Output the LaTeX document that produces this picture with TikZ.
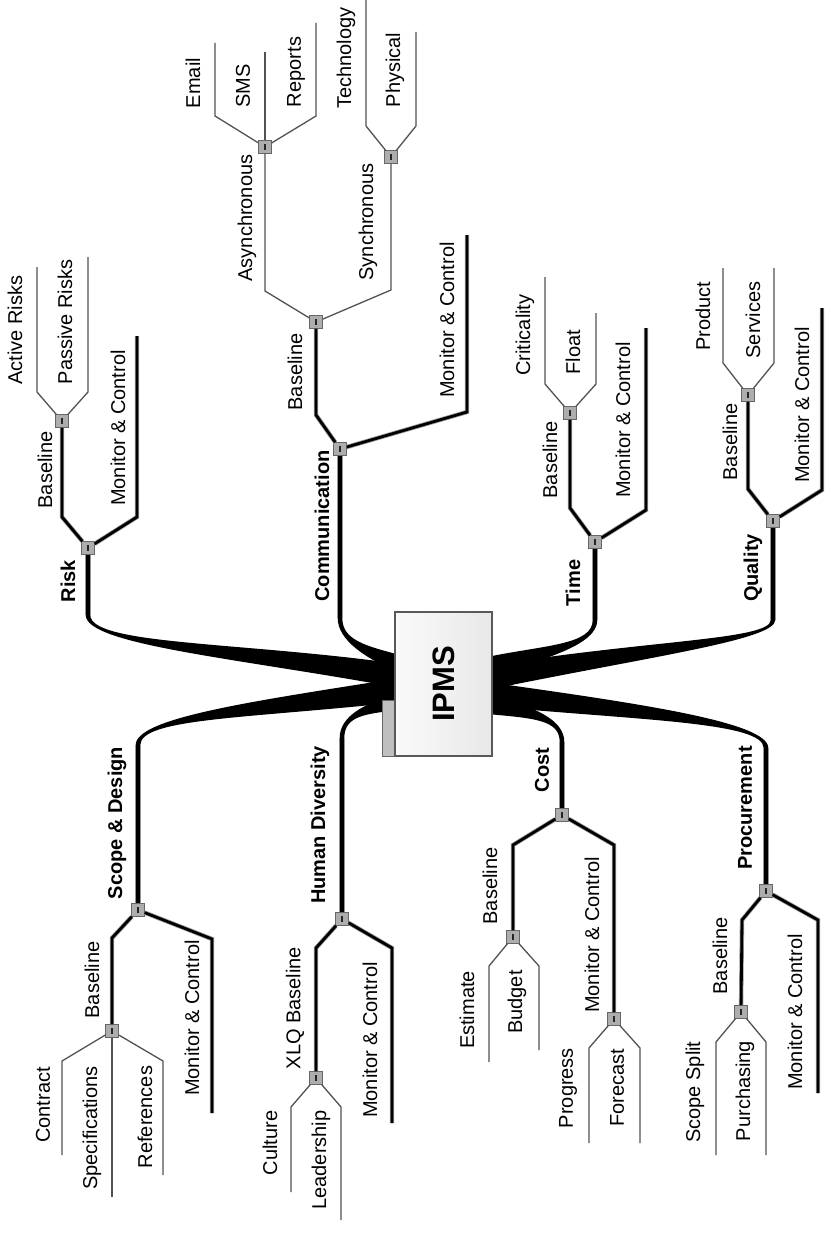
\documentclass[tikz,border=0pt]{standalone}
\usepackage{fontspec}
\setmainfont{Liberation Sans}
\usetikzlibrary{calc}
% tapered band from the central box to a topic stem
% #1 start, #2 end, #3 first control, #4 second control, #5 half width at start, #6 signed half width at end
\newcommand\taperband[6]{%
  \fill[bandfill] ($(#1)+(0,-#5)$) .. controls ($(#3)+(0,-0.7*#5)$) and ($(#4)+(#6,0)$) .. ($(#2)+(#6,0)$)
    -- ($(#2)+({-1*(#6)},0)$) .. controls ($(#4)+({-1*(#6)},0)$) and ($(#3)+(0,0.7*#5)$) .. ($(#1)+(0,#5)$) -- cycle;}
\begin{document}
\begin{tikzpicture}[x=1pt,y=-1pt,
  lbl/.style={rotate=90,inner sep=0pt,font=\fontsize{20}{24}\selectfont},
  topic/.style={rotate=90,inner sep=0pt,font=\fontsize{20}{24}\selectfont\bfseries},
  lone/.style={preaction={draw=black!42,line width=5.4pt},draw=black,line width=3.4pt},
  ltwo/.style={preaction={draw=black!40,line width=4.4pt},draw=black,line width=2.8pt},
  lthree/.style={draw=black!68,line width=1.3pt},
  sq/.style={draw=black!60,fill=black!32,line width=0.8pt,minimum size=12.5pt,inner sep=0pt,
    path picture={\fill[black!85] ($(path picture bounding box.center)+(-0.9pt,-2.8pt)$) rectangle ++(1.8pt,5.6pt);}},
  bandfill/.style={fill=black}]
\useasboundingbox (0,0) rectangle (824,1244);
\fill[white] (0,0) rectangle (824,1244);

% ---------- coordinates of the stems ----------
% band start points on the central box
\coordinate (bRiskS) at (400,676);
\coordinate (bCommS) at (400,664);
\coordinate (bScopeS) at (400,690);
\coordinate (bHdS) at (400,702);
\coordinate (bTimeS) at (487,667);
\coordinate (bQualS) at (487,678);
\coordinate (bProcS) at (487,694);
\coordinate (bCostS) at (487,705);
% band end points, where the topic stems begin
\coordinate (riskE) at (88,615);
\coordinate (commE) at (340,618);
\coordinate (scopeE) at (138,745);
\coordinate (hdE) at (342,738);
\coordinate (timeE) at (595,620);
\coordinate (qualE) at (773,620);
\coordinate (procE) at (766,748);
\coordinate (costE) at (562,742);

% ---------- tapered bands ----------
\taperband{bRiskS}{riskE}{240,650}{88,645}{12}{2.3}
\taperband{bCommS}{commE}{365,652}{340,640}{9}{2.3}
\taperband{bScopeS}{scopeE}{250,710}{138,718}{12}{-2.3}
\taperband{bHdS}{hdE}{365,708}{342,716}{8}{-2.3}
\taperband{bTimeS}{timeE}{545,652}{595,645}{10}{-2.3}
\taperband{bQualS}{qualE}{650,648}{773,640}{12}{-2.3}
\taperband{bProcS}{procE}{640,712}{766,722}{12}{2.3}
\taperband{bCostS}{costE}{535,712}{562,720}{9}{2.3}

% ---------- central box ----------
\fill[black!25,draw=black!60,line width=1pt] (382,700) rectangle (396,756);
\node[rotate=90,draw=black!65,line width=1.5pt,left color=black!2,right color=black!9,
  minimum width=144pt,minimum height=97pt,inner sep=0pt,
  font=\fontsize{31}{36}\selectfont\bfseries] (ipms) at (443.5,684) {IPMS};

% ---------- Risk ----------
\node[sq] (rs) at (88,548) {};
\node[sq] (rbsq) at (62,421) {};
\coordinate (rbE) at (62,517);
\coordinate (rmE) at (137,517); \coordinate (rmT) at (137,336);
\coordinate (raE) at (37,392); \coordinate (raT) at (37,267);
\coordinate (rpE) at (88,392); \coordinate (rpT) at (88,257);
\draw[lone] (riskE) -- (rs);
\draw[ltwo] (rs) -- (rbE) -- (rbsq);
\draw[ltwo] (rs) -- (rmE) -- (rmT);
\draw[lthree] (rbsq) -- (raE) -- (raT);
\draw[lthree] (rbsq) -- (rpE) -- (rpT);

% ---------- Communication ----------
\node[sq] (cs) at (340,449) {};
\node[sq] (cbsq) at (316,322) {};
\node[sq] (casq) at (265,147) {};
\node[sq] (cysq) at (391,157) {};
\coordinate (cbE) at (316,415);
\coordinate (cmE) at (467,412); \coordinate (cmT) at (467,235);
\coordinate (caE) at (265,291);
\coordinate (cyE) at (391,290);
\coordinate (emE) at (215,116); \coordinate (emT) at (215,43);
\coordinate (smsT) at (265,52);
\coordinate (repE) at (316,116); \coordinate (repT) at (316,23);
\coordinate (tecE) at (366,126); \coordinate (tecT) at (366,0);
\coordinate (phyE) at (416,126); \coordinate (phyT) at (416,32);
\draw[lone] (commE) -- (cs);
\draw[ltwo] (cs) -- (cbE) -- (cbsq);
\draw[ltwo] (cs) -- (cmE) -- (cmT);
\draw[lthree] (cbsq) -- (caE) -- (casq);
\draw[lthree] (cbsq) -- (cyE) -- (cysq);
\draw[lthree] (casq) -- (emE) -- (emT);
\draw[lthree] (casq) -- (smsT);
\draw[lthree] (casq) -- (repE) -- (repT);
\draw[lthree] (cysq) -- (tecE) -- (tecT);
\draw[lthree] (cysq) -- (phyE) -- (phyT);

% ---------- Time ----------
\node[sq] (ts) at (595,542) {};
\node[sq] (tbsq) at (570,413) {};
\coordinate (tbE) at (570,508);
\coordinate (tmE) at (646,510); \coordinate (tmT) at (646,328);
\coordinate (crE) at (545,384); \coordinate (crT) at (545,277);
\coordinate (flE) at (596,384); \coordinate (flT) at (596,313);
\draw[lone] (timeE) -- (ts);
\draw[ltwo] (ts) -- (tbE) -- (tbsq);
\draw[ltwo] (ts) -- (tmE) -- (tmT);
\draw[lthree] (tbsq) -- (crE) -- (crT);
\draw[lthree] (tbsq) -- (flE) -- (flT);

% ---------- Quality ----------
\node[sq] (qs) at (773,521) {};
\node[sq] (qbsq) at (748,395) {};
\coordinate (qbE) at (748,489);
\coordinate (qmE) at (822,490); \coordinate (qmT) at (822,308);
\coordinate (prE) at (723,363); \coordinate (prT) at (723,268);
\coordinate (svE) at (774,363); \coordinate (svT) at (774,268);
\draw[lone] (qualE) -- (qs);
\draw[ltwo] (qs) -- (qbE) -- (qbsq);
\draw[ltwo] (qs) -- (qmE) -- (qmT);
\draw[lthree] (qbsq) -- (prE) -- (prT);
\draw[lthree] (qbsq) -- (svE) -- (svT);

% ---------- Scope & Design ----------
\node[sq] (ss) at (138,910) {};
\node[sq] (sbsq) at (112,1031) {};
\coordinate (sbE) at (112,938);
\coordinate (smE) at (212,939); \coordinate (smB) at (212,1113);
\coordinate (coE) at (62,1061); \coordinate (coB) at (62,1155);
\coordinate (spB) at (112,1197);
\coordinate (reE) at (163,1061); \coordinate (reB) at (163,1175);
\draw[lone] (scopeE) -- (ss);
\draw[ltwo] (ss) -- (sbE) -- (sbsq);
\draw[ltwo] (ss) -- (smE) -- (smB);
\draw[lthree] (sbsq) -- (coE) -- (coB);
\draw[lthree] (sbsq) -- (spB);
\draw[lthree] (sbsq) -- (reE) -- (reB);

% ---------- Human Diversity ----------
\node[sq] (hs) at (342,919) {};
\node[sq] (hbsq) at (316,1078) {};
\coordinate (hbE) at (316,948);
\coordinate (hmE) at (392,948); \coordinate (hmB) at (392,1123);
\coordinate (cuE) at (291,1107); \coordinate (cuB) at (291,1192);
\coordinate (leE) at (341,1107); \coordinate (leB) at (341,1220);
\draw[lone] (hdE) -- (hs);
\draw[ltwo] (hs) -- (hbE) -- (hbsq);
\draw[ltwo] (hs) -- (hmE) -- (hmB);
\draw[lthree] (hbsq) -- (cuE) -- (cuB);
\draw[lthree] (hbsq) -- (leE) -- (leB);

% ---------- Cost ----------
\node[sq] (ks) at (562,815) {};
\node[sq] (kbsq) at (513,937) {};
\node[sq] (kmsq) at (614,1019) {};
\coordinate (kbE) at (513,845);
\coordinate (kmE) at (614,845);
\coordinate (esE) at (489,966); \coordinate (esB) at (489,1062);
\coordinate (buE) at (539,966); \coordinate (buB) at (539,1050);
\coordinate (pgE) at (589,1048); \coordinate (pgB) at (589,1143);
\coordinate (fcE) at (640,1048); \coordinate (fcB) at (640,1143);
\draw[lone] (costE) -- (ks);
\draw[ltwo] (ks) -- (kbE) -- (kbsq);
\draw[ltwo] (ks) -- (kmE) -- (kmsq);
\draw[lthree] (kbsq) -- (esE) -- (esB);
\draw[lthree] (kbsq) -- (buE) -- (buB);
\draw[lthree] (kmsq) -- (pgE) -- (pgB);
\draw[lthree] (kmsq) -- (fcE) -- (fcB);

% ---------- Procurement ----------
\node[sq] (ps) at (766,891) {};
\node[sq] (pbsq) at (741,1012) {};
\coordinate (pbE) at (742,920);
\coordinate (pmE) at (818,920); \coordinate (pmB) at (818,1093);
\coordinate (ssE) at (716,1042); \coordinate (ssB) at (716,1155);
\coordinate (puE) at (766,1042); \coordinate (puB) at (766,1155);
\draw[lone] (procE) -- (ps);
\draw[ltwo] (ps) -- (pbE) -- (pbsq);
\draw[ltwo] (ps) -- (pmE) -- (pmB);
\draw[lthree] (pbsq) -- (ssE) -- (ssB);
\draw[lthree] (pbsq) -- (puE) -- (puB);

% ---------- labels ----------
\node[topic] (tRisk) at (68,581) {Risk};
\node[lbl] (lRiskBase) at (45,470) {Baseline};
\node[lbl] (lRiskMon) at (118,428) {Monitor \& Control};
\node[lbl] (lActive) at (15,330) {Active Risks};
\node[lbl] (lPassive) at (65,322) {Passive Risks};

\node[topic] (tComm) at (322,526) {Communication};
\node[lbl] (lCommBase) at (295,372) {Baseline};
\node[lbl] (lCommMon) at (447,320) {Monitor \& Control};
\node[lbl] (lAsync) at (247,218) {Asynchronous};
\node[lbl] (lSync) at (368,222) {Synchronous};
\node[lbl] (lEmail) at (193,83) {Email};
\node[lbl] (lSms) at (243,86) {SMS};
\node[lbl] (lReports) at (296,72) {Reports};
\node[lbl] (lTech) at (346,58) {Technology};
\node[lbl] (lPhys) at (395,70) {Physical};

\node[topic] (tTime) at (573,583) {Time};
\node[lbl] (lTimeBase) at (550,460) {Baseline};
\node[lbl] (lTimeMon) at (623,420) {Monitor \& Control};
\node[lbl] (lCrit) at (525,335) {Criticality};
\node[lbl] (lFloat) at (573,352) {Float};

\node[topic] (tQual) at (753,568) {Quality};
\node[lbl] (lQualBase) at (730,442) {Baseline};
\node[lbl] (lQualMon) at (802,405) {Monitor \& Control};
\node[lbl] (lProduct) at (703,316) {Product};
\node[lbl] (lServices) at (753,320) {Services};

\node[topic] (tScope) at (117,823) {Scope \& Design};
\node[lbl] (lScopeBase) at (92,980) {Baseline};
\node[lbl] (lScopeMon) at (192,1018) {Monitor \& Control};
\node[lbl] (lContract) at (43,1105) {Contract};
\node[lbl] (lSpec) at (92,1128) {Specifications};
\node[lbl] (lRef) at (145,1117) {References};

\node[topic] (tHd) at (320,825) {Human Diversity};
\node[lbl] (lXlq) at (295,1008) {XLQ Baseline};
\node[lbl] (lHdMon) at (370,1040) {Monitor \& Control};
\node[lbl] (lCulture) at (270,1143) {Culture};
\node[lbl] (lLead) at (321,1160) {Leadership};

\node[topic] (tCost) at (542,770) {Cost};
\node[lbl] (lCostBase) at (490,886) {Baseline};
\node[lbl] (lCostMon) at (592,935) {Monitor \& Control};
\node[lbl] (lEstimate) at (467,1010) {Estimate};
\node[lbl] (lBudget) at (517,1002) {Budget};
\node[lbl] (lProgress) at (568,1088) {Progress};
\node[lbl] (lForecast) at (617,1088) {Forecast};

\node[topic] (tProc) at (745,808) {Procurement};
\node[lbl] (lProcBase) at (720,956) {Baseline};
\node[lbl] (lProcMon) at (795,1012) {Monitor \& Control};
\node[lbl] (lSplit) at (695,1092) {Scope Split};
\node[lbl] (lPurch) at (745,1091) {Purchasing};
\end{tikzpicture}
\end{document}
